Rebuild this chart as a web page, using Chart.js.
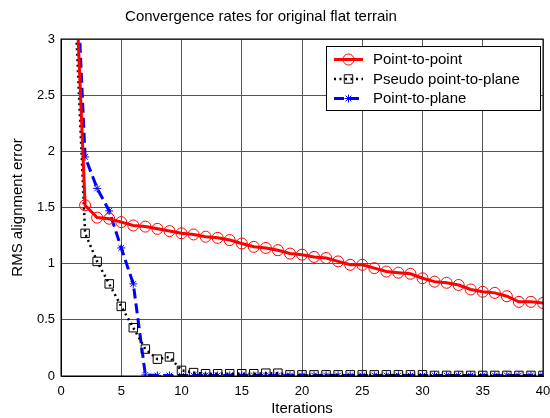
<!DOCTYPE html>
<html lang="en">

<head>
    <meta charset="UTF-8">
    <title>Convergence rates</title>
    <script src="https://cdn.jsdelivr.net/npm/chart.js"></script>
    <style>
        html, body {
            margin: 0;
            padding: 0;
            background: #fff;
        }
        .container {
            width: 550px;
            height: 418px;
        }
    </style>
</head>

<body>
    <div class="container">
        <canvas id="grafico" width="550" height="418"></canvas>
    </div>
    <script>
        const chartTitle = 'Convergence rates for original flat terrain';
        const iterations = [1, 2, 3, 4, 5, 6, 7, 8, 9, 10, 11, 12, 13, 14, 15, 16, 17, 18, 19, 20,
            21, 22, 23, 24, 25, 26, 27, 28, 29, 30, 31, 32, 33, 34, 35, 36, 37, 38, 39, 40];
        const pointToPoint = [4.1, 1.52, 1.41, 1.40, 1.37, 1.34, 1.33, 1.31, 1.29, 1.27, 1.26, 1.24, 1.23, 1.21, 1.18, 1.15,
            1.14, 1.12, 1.09, 1.08, 1.06, 1.05, 1.02, 0.99, 0.99, 0.96, 0.93, 0.92, 0.91, 0.87,
            0.84, 0.83, 0.81, 0.77, 0.75, 0.74, 0.71, 0.66, 0.66, 0.65];
        const pseudoPointToPlane = [3.7, 1.27, 1.02, 0.82, 0.62, 0.43, 0.24, 0.15, 0.17, 0.05, 0.03, 0.02, 0.02, 0.02, 0.02, 0.02,
            0.025, 0.025, 0.01, 0.01, 0.01, 0.01, 0.01, 0.01, 0.01, 0.01, 0.01, 0.01, 0.01, 0.01,
            0.005, 0.005, 0.005, 0.005, 0.005, 0.005, 0.005, 0.005, 0.005, 0.005];
        const pointToPlane = [4.3, 1.95, 1.67, 1.47, 1.14, 0.82, 0.01, 0.005, 0.005, 0.005, 0.005, 0.005, 0.005, 0.005, 0.005, 0.005,
            0.005, 0.005, 0.005, 0.005, 0.005, 0.005, 0.005, 0.005, 0.005, 0.005, 0.005, 0.005, 0.005, 0.005,
            0.005, 0.005, 0.005, 0.005, 0.005, 0.005, 0.005, 0.005, 0.005, 0.005];
        const xTicks = [0, 5, 10, 15, 20, 25, 30, 35, 40];
        const yTicks = [0, 0.5, 1, 1.5, 2, 2.5, 3];

        const FONT = 'Liberation Sans, Arial, sans-serif';

        function toPoints(values) {
            return iterations.map((x, i) => ({ x: x, y: values[i] }));
        }

        function drawMarker(ctx, style, x, y, r) {
            ctx.beginPath();
            if (style === 'circle') {
                ctx.arc(x, y, r, 0, Math.PI * 2);
            } else if (style === 'rect') {
                const s = r * Math.SQRT1_2;
                ctx.rect(x - s, y - s, 2 * s, 2 * s);
            } else if (style === 'star') {
                ctx.moveTo(x - r, y); ctx.lineTo(x + r, y);
                ctx.moveTo(x, y - r); ctx.lineTo(x, y + r);
                const d = r * Math.SQRT1_2;
                ctx.moveTo(x - d, y - d); ctx.lineTo(x + d, y + d);
                ctx.moveTo(x - d, y + d); ctx.lineTo(x + d, y - d);
            }
            ctx.stroke();
        }

        // title, axes box and the legend in the upper right corner
        const extras = {
            id: 'extras',
            afterDraw(chart) {
                const ctx = chart.ctx;
                const area = chart.chartArea;
                ctx.save();
                ctx.fillStyle = '#000';
                ctx.font = '15px ' + FONT;
                ctx.textAlign = 'center';
                ctx.textBaseline = 'middle';
                ctx.fillText(chartTitle, 261, 17);

                ctx.strokeStyle = '#000';
                ctx.lineWidth = 1;
                ctx.strokeRect(area.left, area.top, area.right - area.left, area.bottom - area.top);

                const box = { x: 326.5, y: 46.5, w: 214, h: 64 };
                ctx.fillStyle = '#fff';
                ctx.fillRect(box.x, box.y, box.w, box.h);
                ctx.strokeRect(box.x, box.y, box.w, box.h);
                ctx.textAlign = 'left';
                chart.data.datasets.forEach((ds, i) => {
                    const y = 59.5 + i * 19.5;
                    ctx.strokeStyle = ds.borderColor;
                    ctx.lineWidth = ds.borderWidth;
                    ctx.setLineDash(ds.borderDash || []);
                    ctx.beginPath();
                    ctx.moveTo(334, y);
                    ctx.lineTo(363, y);
                    ctx.stroke();
                    ctx.setLineDash([]);
                    ctx.lineWidth = 1;
                    drawMarker(ctx, ds.pointStyle, 348.5, y, ds.pointRadius);
                    ctx.fillStyle = '#000';
                    ctx.fillText(ds.label, 373, y + 0.5);
                });
                ctx.restore();
            }
        };

        const ctx = document.getElementById('grafico').getContext('2d');
        new Chart(ctx, {
            type: 'line',
            data: {
                datasets: [
                    {
                        label: 'Point-to-point',
                        data: toPoints(pointToPoint),
                        borderColor: '#ff0000',
                        borderWidth: 3,
                        pointStyle: 'circle',
                        pointRadius: 5.5,
                        pointBorderWidth: 1,
                        pointBorderColor: '#ff0000',
                        pointBackgroundColor: 'rgba(0,0,0,0)'
                    },
                    {
                        label: 'Pseudo point-to-plane',
                        data: toPoints(pseudoPointToPlane),
                        borderColor: '#000000',
                        borderWidth: 2.5,
                        borderDash: [2, 3.5],
                        pointStyle: 'rect',
                        pointRadius: 6,
                        pointBorderWidth: 1,
                        pointBorderColor: '#000000',
                        pointBackgroundColor: 'rgba(0,0,0,0)'
                    },
                    {
                        label: 'Point-to-plane',
                        data: toPoints(pointToPlane),
                        borderColor: '#0000ff',
                        borderWidth: 3,
                        borderDash: [10, 5],
                        pointStyle: 'star',
                        pointRadius: 4,
                        pointBorderWidth: 1,
                        pointBorderColor: '#0000ff',
                        pointBackgroundColor: 'rgba(0,0,0,0)'
                    }
                ]
            },
            options: {
                responsive: false,
                animation: false,
                layout: {
                    padding: { top: 39, right: 6.5, left: 0, bottom: 0 }
                },
                plugins: {
                    legend: { display: false },
                    tooltip: { enabled: false }
                },
                elements: {
                    line: { tension: 0 }
                },
                scales: {
                    x: {
                        type: 'linear',
                        min: 0,
                        max: 40,
                        afterBuildTicks: (scale) => { scale.ticks = xTicks.map(v => ({ value: v })); },
                        afterFit: (scale) => {
                            scale.height = 42;
                            scale.paddingLeft = 0;
                            scale.paddingRight = 0;
                        },
                        grid: { color: '#555', lineWidth: 1, drawTicks: false },
                        border: { color: '#000', width: 1 },
                        ticks: {
                            color: '#000',
                            font: { family: FONT, size: 13 },
                            padding: 8,
                            maxRotation: 0,
                            callback: (v) => String(v)
                        },
                        title: {
                            display: true,
                            text: 'Iterations',
                            color: '#000',
                            font: { family: FONT, size: 15 },
                            padding: { top: 0, bottom: 0 }
                        }
                    },
                    y: {
                        type: 'linear',
                        min: 0,
                        max: 3,
                        afterBuildTicks: (scale) => { scale.ticks = yTicks.map(v => ({ value: v })); },
                        afterFit: (scale) => { scale.width = 61; },
                        grid: { color: '#555', lineWidth: 1, drawTicks: false },
                        border: { color: '#000', width: 1 },
                        ticks: {
                            color: '#000',
                            font: { family: FONT, size: 13 },
                            padding: 6,
                            callback: (v) => String(v)
                        },
                        title: {
                            display: true,
                            text: 'RMS alignment error',
                            color: '#000',
                            font: { family: FONT, size: 15 },
                            padding: { top: 9, bottom: 0 }
                        }
                    }
                }
            },
            plugins: [extras]
        });
    </script>
</body>

</html>
